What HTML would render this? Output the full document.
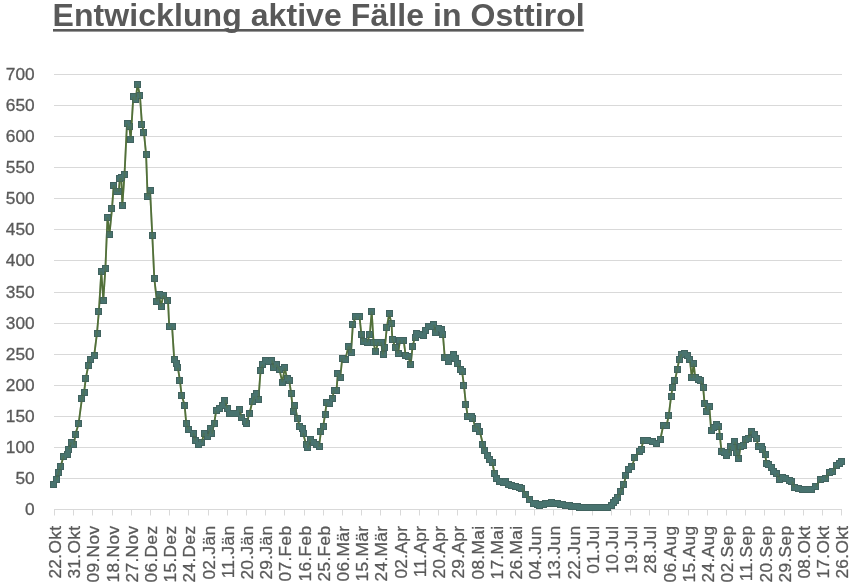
<!DOCTYPE html><html><head><meta charset="utf-8"><style>html,body{margin:0;padding:0;background:#fff;}svg{display:block;will-change:transform;}text{font-family:"Liberation Sans",Arial,sans-serif;}</style></head><body>
<svg width="850" height="584" viewBox="0 0 850 584">
<rect width="850" height="584" fill="#fff"/>
<text x="52.6" y="26" font-size="32" letter-spacing="0.065" font-weight="bold" fill="#595959">Entwicklung aktive Fälle in Osttirol</text>
<rect x="53" y="29" width="530.8" height="2.6" fill="#595959"/>
<line x1="54" x2="842" y1="478.5" y2="478.5" stroke="#d9d9d9" stroke-width="1"/>
<line x1="54" x2="842" y1="447.5" y2="447.5" stroke="#d9d9d9" stroke-width="1"/>
<line x1="54" x2="842" y1="416.5" y2="416.5" stroke="#d9d9d9" stroke-width="1"/>
<line x1="54" x2="842" y1="385.5" y2="385.5" stroke="#d9d9d9" stroke-width="1"/>
<line x1="54" x2="842" y1="354.5" y2="354.5" stroke="#d9d9d9" stroke-width="1"/>
<line x1="54" x2="842" y1="323.5" y2="323.5" stroke="#d9d9d9" stroke-width="1"/>
<line x1="54" x2="842" y1="292.5" y2="292.5" stroke="#d9d9d9" stroke-width="1"/>
<line x1="54" x2="842" y1="260.5" y2="260.5" stroke="#d9d9d9" stroke-width="1"/>
<line x1="54" x2="842" y1="229.5" y2="229.5" stroke="#d9d9d9" stroke-width="1"/>
<line x1="54" x2="842" y1="198.5" y2="198.5" stroke="#d9d9d9" stroke-width="1"/>
<line x1="54" x2="842" y1="167.5" y2="167.5" stroke="#d9d9d9" stroke-width="1"/>
<line x1="54" x2="842" y1="136.5" y2="136.5" stroke="#d9d9d9" stroke-width="1"/>
<line x1="54" x2="842" y1="105.5" y2="105.5" stroke="#d9d9d9" stroke-width="1"/>
<line x1="54" x2="842" y1="74.5" y2="74.5" stroke="#d9d9d9" stroke-width="1"/>
<line x1="54" x2="842" y1="509.5" y2="509.5" stroke="#d9d9d9" stroke-width="1"/>
<line x1="54.5" x2="54.5" y1="509.5" y2="515.5" stroke="#d9d9d9" stroke-width="1"/>
<line x1="73.5" x2="73.5" y1="509.5" y2="515.5" stroke="#d9d9d9" stroke-width="1"/>
<line x1="92.5" x2="92.5" y1="509.5" y2="515.5" stroke="#d9d9d9" stroke-width="1"/>
<line x1="112.5" x2="112.5" y1="509.5" y2="515.5" stroke="#d9d9d9" stroke-width="1"/>
<line x1="131.5" x2="131.5" y1="509.5" y2="515.5" stroke="#d9d9d9" stroke-width="1"/>
<line x1="150.5" x2="150.5" y1="509.5" y2="515.5" stroke="#d9d9d9" stroke-width="1"/>
<line x1="169.5" x2="169.5" y1="509.5" y2="515.5" stroke="#d9d9d9" stroke-width="1"/>
<line x1="188.5" x2="188.5" y1="509.5" y2="515.5" stroke="#d9d9d9" stroke-width="1"/>
<line x1="208.5" x2="208.5" y1="509.5" y2="515.5" stroke="#d9d9d9" stroke-width="1"/>
<line x1="227.5" x2="227.5" y1="509.5" y2="515.5" stroke="#d9d9d9" stroke-width="1"/>
<line x1="246.5" x2="246.5" y1="509.5" y2="515.5" stroke="#d9d9d9" stroke-width="1"/>
<line x1="265.5" x2="265.5" y1="509.5" y2="515.5" stroke="#d9d9d9" stroke-width="1"/>
<line x1="284.5" x2="284.5" y1="509.5" y2="515.5" stroke="#d9d9d9" stroke-width="1"/>
<line x1="304.5" x2="304.5" y1="509.5" y2="515.5" stroke="#d9d9d9" stroke-width="1"/>
<line x1="323.5" x2="323.5" y1="509.5" y2="515.5" stroke="#d9d9d9" stroke-width="1"/>
<line x1="342.5" x2="342.5" y1="509.5" y2="515.5" stroke="#d9d9d9" stroke-width="1"/>
<line x1="361.5" x2="361.5" y1="509.5" y2="515.5" stroke="#d9d9d9" stroke-width="1"/>
<line x1="380.5" x2="380.5" y1="509.5" y2="515.5" stroke="#d9d9d9" stroke-width="1"/>
<line x1="400.5" x2="400.5" y1="509.5" y2="515.5" stroke="#d9d9d9" stroke-width="1"/>
<line x1="419.5" x2="419.5" y1="509.5" y2="515.5" stroke="#d9d9d9" stroke-width="1"/>
<line x1="438.5" x2="438.5" y1="509.5" y2="515.5" stroke="#d9d9d9" stroke-width="1"/>
<line x1="457.5" x2="457.5" y1="509.5" y2="515.5" stroke="#d9d9d9" stroke-width="1"/>
<line x1="476.5" x2="476.5" y1="509.5" y2="515.5" stroke="#d9d9d9" stroke-width="1"/>
<line x1="496.5" x2="496.5" y1="509.5" y2="515.5" stroke="#d9d9d9" stroke-width="1"/>
<line x1="515.5" x2="515.5" y1="509.5" y2="515.5" stroke="#d9d9d9" stroke-width="1"/>
<line x1="534.5" x2="534.5" y1="509.5" y2="515.5" stroke="#d9d9d9" stroke-width="1"/>
<line x1="553.5" x2="553.5" y1="509.5" y2="515.5" stroke="#d9d9d9" stroke-width="1"/>
<line x1="572.5" x2="572.5" y1="509.5" y2="515.5" stroke="#d9d9d9" stroke-width="1"/>
<line x1="592.5" x2="592.5" y1="509.5" y2="515.5" stroke="#d9d9d9" stroke-width="1"/>
<line x1="611.5" x2="611.5" y1="509.5" y2="515.5" stroke="#d9d9d9" stroke-width="1"/>
<line x1="630.5" x2="630.5" y1="509.5" y2="515.5" stroke="#d9d9d9" stroke-width="1"/>
<line x1="649.5" x2="649.5" y1="509.5" y2="515.5" stroke="#d9d9d9" stroke-width="1"/>
<line x1="668.5" x2="668.5" y1="509.5" y2="515.5" stroke="#d9d9d9" stroke-width="1"/>
<line x1="688.5" x2="688.5" y1="509.5" y2="515.5" stroke="#d9d9d9" stroke-width="1"/>
<line x1="707.5" x2="707.5" y1="509.5" y2="515.5" stroke="#d9d9d9" stroke-width="1"/>
<line x1="726.5" x2="726.5" y1="509.5" y2="515.5" stroke="#d9d9d9" stroke-width="1"/>
<line x1="745.5" x2="745.5" y1="509.5" y2="515.5" stroke="#d9d9d9" stroke-width="1"/>
<line x1="764.5" x2="764.5" y1="509.5" y2="515.5" stroke="#d9d9d9" stroke-width="1"/>
<line x1="784.5" x2="784.5" y1="509.5" y2="515.5" stroke="#d9d9d9" stroke-width="1"/>
<line x1="803.5" x2="803.5" y1="509.5" y2="515.5" stroke="#d9d9d9" stroke-width="1"/>
<line x1="822.5" x2="822.5" y1="509.5" y2="515.5" stroke="#d9d9d9" stroke-width="1"/>
<line x1="841.5" x2="841.5" y1="509.5" y2="515.5" stroke="#d9d9d9" stroke-width="1"/>
<text x="34.7" y="515.2" font-size="17.3" fill="#595959" stroke="#595959" stroke-width="0.3" text-anchor="end">0</text>
<text x="34.7" y="484.2" font-size="17.3" fill="#595959" stroke="#595959" stroke-width="0.3" text-anchor="end">50</text>
<text x="34.7" y="453.2" font-size="17.3" fill="#595959" stroke="#595959" stroke-width="0.3" text-anchor="end">100</text>
<text x="34.7" y="422.2" font-size="17.3" fill="#595959" stroke="#595959" stroke-width="0.3" text-anchor="end">150</text>
<text x="34.7" y="391.2" font-size="17.3" fill="#595959" stroke="#595959" stroke-width="0.3" text-anchor="end">200</text>
<text x="34.7" y="360.2" font-size="17.3" fill="#595959" stroke="#595959" stroke-width="0.3" text-anchor="end">250</text>
<text x="34.7" y="329.2" font-size="17.3" fill="#595959" stroke="#595959" stroke-width="0.3" text-anchor="end">300</text>
<text x="34.7" y="298.2" font-size="17.3" fill="#595959" stroke="#595959" stroke-width="0.3" text-anchor="end">350</text>
<text x="34.7" y="266.2" font-size="17.3" fill="#595959" stroke="#595959" stroke-width="0.3" text-anchor="end">400</text>
<text x="34.7" y="235.2" font-size="17.3" fill="#595959" stroke="#595959" stroke-width="0.3" text-anchor="end">450</text>
<text x="34.7" y="204.2" font-size="17.3" fill="#595959" stroke="#595959" stroke-width="0.3" text-anchor="end">500</text>
<text x="34.7" y="173.2" font-size="17.3" fill="#595959" stroke="#595959" stroke-width="0.3" text-anchor="end">550</text>
<text x="34.7" y="142.2" font-size="17.3" fill="#595959" stroke="#595959" stroke-width="0.3" text-anchor="end">600</text>
<text x="34.7" y="111.2" font-size="17.3" fill="#595959" stroke="#595959" stroke-width="0.3" text-anchor="end">650</text>
<text x="34.7" y="80.2" font-size="17.3" fill="#595959" stroke="#595959" stroke-width="0.3" text-anchor="end">700</text>
<text transform="translate(61.0,525.6) rotate(-90)" x="0" y="0" font-size="17.3" letter-spacing="0.35" fill="#595959" stroke="#595959" stroke-width="0.3" text-anchor="end">22.Okt</text>
<text transform="translate(80.2,525.6) rotate(-90)" x="0" y="0" font-size="17.3" letter-spacing="0.35" fill="#595959" stroke="#595959" stroke-width="0.3" text-anchor="end">31.Okt</text>
<text transform="translate(99.4,525.6) rotate(-90)" x="0" y="0" font-size="17.3" letter-spacing="0.35" fill="#595959" stroke="#595959" stroke-width="0.3" text-anchor="end">09.Nov</text>
<text transform="translate(118.6,525.6) rotate(-90)" x="0" y="0" font-size="17.3" letter-spacing="0.35" fill="#595959" stroke="#595959" stroke-width="0.3" text-anchor="end">18.Nov</text>
<text transform="translate(137.8,525.6) rotate(-90)" x="0" y="0" font-size="17.3" letter-spacing="0.35" fill="#595959" stroke="#595959" stroke-width="0.3" text-anchor="end">27.Nov</text>
<text transform="translate(157.0,525.6) rotate(-90)" x="0" y="0" font-size="17.3" letter-spacing="0.35" fill="#595959" stroke="#595959" stroke-width="0.3" text-anchor="end">06.Dez</text>
<text transform="translate(176.2,525.6) rotate(-90)" x="0" y="0" font-size="17.3" letter-spacing="0.35" fill="#595959" stroke="#595959" stroke-width="0.3" text-anchor="end">15.Dez</text>
<text transform="translate(195.4,525.6) rotate(-90)" x="0" y="0" font-size="17.3" letter-spacing="0.35" fill="#595959" stroke="#595959" stroke-width="0.3" text-anchor="end">24.Dez</text>
<text transform="translate(214.6,525.6) rotate(-90)" x="0" y="0" font-size="17.3" letter-spacing="0.35" fill="#595959" stroke="#595959" stroke-width="0.3" text-anchor="end">02.Jän</text>
<text transform="translate(233.8,525.6) rotate(-90)" x="0" y="0" font-size="17.3" letter-spacing="0.35" fill="#595959" stroke="#595959" stroke-width="0.3" text-anchor="end">11.Jän</text>
<text transform="translate(253.0,525.6) rotate(-90)" x="0" y="0" font-size="17.3" letter-spacing="0.35" fill="#595959" stroke="#595959" stroke-width="0.3" text-anchor="end">20.Jän</text>
<text transform="translate(272.2,525.6) rotate(-90)" x="0" y="0" font-size="17.3" letter-spacing="0.35" fill="#595959" stroke="#595959" stroke-width="0.3" text-anchor="end">29.Jän</text>
<text transform="translate(291.4,525.6) rotate(-90)" x="0" y="0" font-size="17.3" letter-spacing="0.35" fill="#595959" stroke="#595959" stroke-width="0.3" text-anchor="end">07.Feb</text>
<text transform="translate(310.6,525.6) rotate(-90)" x="0" y="0" font-size="17.3" letter-spacing="0.35" fill="#595959" stroke="#595959" stroke-width="0.3" text-anchor="end">16.Feb</text>
<text transform="translate(329.8,525.6) rotate(-90)" x="0" y="0" font-size="17.3" letter-spacing="0.35" fill="#595959" stroke="#595959" stroke-width="0.3" text-anchor="end">25.Feb</text>
<text transform="translate(349.0,525.6) rotate(-90)" x="0" y="0" font-size="17.3" letter-spacing="0.35" fill="#595959" stroke="#595959" stroke-width="0.3" text-anchor="end">06.Mär</text>
<text transform="translate(368.2,525.6) rotate(-90)" x="0" y="0" font-size="17.3" letter-spacing="0.35" fill="#595959" stroke="#595959" stroke-width="0.3" text-anchor="end">15.Mär</text>
<text transform="translate(387.4,525.6) rotate(-90)" x="0" y="0" font-size="17.3" letter-spacing="0.35" fill="#595959" stroke="#595959" stroke-width="0.3" text-anchor="end">24.Mär</text>
<text transform="translate(406.6,525.6) rotate(-90)" x="0" y="0" font-size="17.3" letter-spacing="0.35" fill="#595959" stroke="#595959" stroke-width="0.3" text-anchor="end">02.Apr</text>
<text transform="translate(425.8,525.6) rotate(-90)" x="0" y="0" font-size="17.3" letter-spacing="0.35" fill="#595959" stroke="#595959" stroke-width="0.3" text-anchor="end">11.Apr</text>
<text transform="translate(445.0,525.6) rotate(-90)" x="0" y="0" font-size="17.3" letter-spacing="0.35" fill="#595959" stroke="#595959" stroke-width="0.3" text-anchor="end">20.Apr</text>
<text transform="translate(464.3,525.6) rotate(-90)" x="0" y="0" font-size="17.3" letter-spacing="0.35" fill="#595959" stroke="#595959" stroke-width="0.3" text-anchor="end">29.Apr</text>
<text transform="translate(483.5,525.6) rotate(-90)" x="0" y="0" font-size="17.3" letter-spacing="0.35" fill="#595959" stroke="#595959" stroke-width="0.3" text-anchor="end">08.Mai</text>
<text transform="translate(502.7,525.6) rotate(-90)" x="0" y="0" font-size="17.3" letter-spacing="0.35" fill="#595959" stroke="#595959" stroke-width="0.3" text-anchor="end">17.Mai</text>
<text transform="translate(521.9,525.6) rotate(-90)" x="0" y="0" font-size="17.3" letter-spacing="0.35" fill="#595959" stroke="#595959" stroke-width="0.3" text-anchor="end">26.Mai</text>
<text transform="translate(541.1,525.6) rotate(-90)" x="0" y="0" font-size="17.3" letter-spacing="0.35" fill="#595959" stroke="#595959" stroke-width="0.3" text-anchor="end">04.Jun</text>
<text transform="translate(560.3,525.6) rotate(-90)" x="0" y="0" font-size="17.3" letter-spacing="0.35" fill="#595959" stroke="#595959" stroke-width="0.3" text-anchor="end">13.Jun</text>
<text transform="translate(579.5,525.6) rotate(-90)" x="0" y="0" font-size="17.3" letter-spacing="0.35" fill="#595959" stroke="#595959" stroke-width="0.3" text-anchor="end">22.Jun</text>
<text transform="translate(598.7,525.6) rotate(-90)" x="0" y="0" font-size="17.3" letter-spacing="0.35" fill="#595959" stroke="#595959" stroke-width="0.3" text-anchor="end">01.Jul</text>
<text transform="translate(617.9,525.6) rotate(-90)" x="0" y="0" font-size="17.3" letter-spacing="0.35" fill="#595959" stroke="#595959" stroke-width="0.3" text-anchor="end">10.Jul</text>
<text transform="translate(637.1,525.6) rotate(-90)" x="0" y="0" font-size="17.3" letter-spacing="0.35" fill="#595959" stroke="#595959" stroke-width="0.3" text-anchor="end">19.Jul</text>
<text transform="translate(656.3,525.6) rotate(-90)" x="0" y="0" font-size="17.3" letter-spacing="0.35" fill="#595959" stroke="#595959" stroke-width="0.3" text-anchor="end">28.Jul</text>
<text transform="translate(675.5,525.6) rotate(-90)" x="0" y="0" font-size="17.3" letter-spacing="0.35" fill="#595959" stroke="#595959" stroke-width="0.3" text-anchor="end">06.Aug</text>
<text transform="translate(694.7,525.6) rotate(-90)" x="0" y="0" font-size="17.3" letter-spacing="0.35" fill="#595959" stroke="#595959" stroke-width="0.3" text-anchor="end">15.Aug</text>
<text transform="translate(713.9,525.6) rotate(-90)" x="0" y="0" font-size="17.3" letter-spacing="0.35" fill="#595959" stroke="#595959" stroke-width="0.3" text-anchor="end">24.Aug</text>
<text transform="translate(733.1,525.6) rotate(-90)" x="0" y="0" font-size="17.3" letter-spacing="0.35" fill="#595959" stroke="#595959" stroke-width="0.3" text-anchor="end">02.Sep</text>
<text transform="translate(752.3,525.6) rotate(-90)" x="0" y="0" font-size="17.3" letter-spacing="0.35" fill="#595959" stroke="#595959" stroke-width="0.3" text-anchor="end">11.Sep</text>
<text transform="translate(771.5,525.6) rotate(-90)" x="0" y="0" font-size="17.3" letter-spacing="0.35" fill="#595959" stroke="#595959" stroke-width="0.3" text-anchor="end">20.Sep</text>
<text transform="translate(790.7,525.6) rotate(-90)" x="0" y="0" font-size="17.3" letter-spacing="0.35" fill="#595959" stroke="#595959" stroke-width="0.3" text-anchor="end">29.Sep</text>
<text transform="translate(809.9,525.6) rotate(-90)" x="0" y="0" font-size="17.3" letter-spacing="0.35" fill="#595959" stroke="#595959" stroke-width="0.3" text-anchor="end">08.Okt</text>
<text transform="translate(829.1,525.6) rotate(-90)" x="0" y="0" font-size="17.3" letter-spacing="0.35" fill="#595959" stroke="#595959" stroke-width="0.3" text-anchor="end">17.Okt</text>
<text transform="translate(848.3,525.6) rotate(-90)" x="0" y="0" font-size="17.3" letter-spacing="0.35" fill="#595959" stroke="#595959" stroke-width="0.3" text-anchor="end">26.Okt</text>
<polyline points="53.90,484.64 56.50,479.67 58.50,472.84 60.80,466.00 63.60,456.06 67.00,454.20 68.80,449.22 71.30,442.39 73.90,444.87 75.40,434.31 78.60,423.75 81.90,398.89 84.10,392.06 85.80,378.38 88.20,365.96 90.10,359.12 94.20,355.39 97.00,333.02 98.90,311.27 101.30,271.50 103.30,300.09 105.40,268.40 107.50,217.44 109.50,234.22 112.00,208.74 113.70,185.13 116.70,191.96 118.80,191.96 119.80,178.29 121.30,177.67 122.30,205.64 124.50,174.57 127.00,123.61 129.20,126.10 130.70,139.15 133.30,96.89 135.80,100.00 137.40,84.46 139.90,95.03 142.00,124.85 144.00,132.93 146.10,154.68 147.60,196.31 150.10,190.72 152.30,235.46 154.30,278.34 156.90,301.33 159.00,294.50 161.00,306.92 163.10,295.74 168.00,300.09 169.20,326.19 172.10,326.81 174.20,359.12 176.20,363.47 177.90,367.82 179.90,380.25 181.60,395.16 184.60,405.10 186.30,423.75 188.80,429.34 193.10,433.07 195.70,440.52 198.30,444.25 201.70,442.39 204.20,433.07 207.70,436.17 210.20,428.72 212.00,433.69 214.20,423.13 216.20,410.70 219.70,408.83 222.20,405.10 224.80,400.13 227.40,408.21 229.10,413.18 233.40,413.18 236.40,413.80 239.30,409.45 241.90,417.53 245.00,421.88 246.20,423.75 249.60,413.18 252.20,402.00 254.80,396.41 256.90,393.92 258.40,399.51 260.60,370.31 262.90,364.71 265.40,360.99 268.60,361.61 272.00,360.36 273.80,367.82 276.10,364.71 279.50,369.69 282.30,382.11 284.80,367.82 287.00,378.38 289.30,380.87 291.20,393.92 293.00,411.32 294.90,405.73 297.40,418.15 299.80,426.23 302.10,428.72 303.00,433.07 306.20,444.87 307.70,447.98 310.60,439.28 313.40,442.39 316.80,444.25 319.00,446.74 320.90,431.82 323.20,426.23 325.10,414.43 326.60,402.62 330.00,403.24 332.20,398.89 334.10,390.19 336.50,390.19 337.90,373.41 340.30,377.14 342.20,358.50 345.40,359.12 348.60,346.07 351.00,352.91 352.90,324.32 355.70,316.87 359.50,316.24 361.40,334.89 363.60,341.72 367.00,342.34 369.80,334.89 371.70,311.27 373.60,342.96 375.50,351.66 378.30,342.34 381.10,342.34 383.00,354.77 384.90,347.31 386.80,327.43 389.20,313.76 391.50,323.70 392.40,339.86 395.60,347.31 398.10,353.53 400.00,340.48 403.70,340.48 405.60,355.39 408.40,356.64 410.70,364.71 412.60,346.07 415.00,337.37 416.90,333.02 419.70,334.89 423.50,335.51 425.40,330.54 428.20,326.81 431.00,326.81 433.80,324.94 435.70,332.40 438.50,328.67 441.00,329.29 442.90,334.27 444.80,357.88 447.40,357.88 448.90,361.61 450.80,357.88 453.60,354.77 455.50,358.50 457.40,363.47 460.20,369.06 462.10,371.55 464.00,385.84 465.90,404.48 467.80,416.91 471.00,416.29 472.90,418.15 475.30,428.10 477.20,426.23 479.90,431.82 482.90,444.25 484.80,450.47 487.00,455.44 489.30,459.17 492.30,462.27 494.50,473.46 496.80,478.43 499.30,481.54 503.00,482.78 505.80,481.54 508.70,484.02 511.50,485.89 515.30,486.51 519.00,487.13 521.80,488.37 526.00,494.59 530.00,499.56 534.00,503.29 536.00,503.91 538.00,504.53 540.00,505.15 542.00,504.74 544.00,504.32 546.00,503.91 548.00,503.49 550.00,503.08 552.00,502.66 554.00,503.08 556.00,503.49 558.00,503.91 560.33,504.32 562.67,504.74 565.00,505.15 567.00,505.46 569.00,505.77 571.00,506.08 573.00,506.39 575.33,506.60 577.67,506.81 580.00,507.01 582.00,507.08 584.00,507.14 586.00,507.20 588.00,507.26 590.00,507.33 592.00,507.33 594.00,507.33 596.00,507.33 598.00,507.33 600.00,507.33 602.33,507.22 604.67,507.12 607.00,507.01 611.20,505.15 613.33,502.66 615.47,500.18 617.60,497.69 620.90,491.48 623.80,484.64 626.00,475.32 628.10,469.73 631.80,466.62 634.70,457.92 639.00,451.71 641.20,449.22 643.40,440.52 647.80,440.52 652.10,441.77 656.50,443.63 660.40,439.28 663.20,425.61 666.60,425.61 668.80,415.05 671.10,396.41 672.60,387.08 674.90,380.87 677.30,369.06 679.20,359.74 681.60,354.15 684.80,353.53 687.70,355.39 689.90,359.74 691.80,377.76 693.70,363.47 695.20,377.76 698.60,379.63 700.80,380.87 703.10,387.08 704.60,403.86 706.90,411.32 709.30,406.35 711.20,430.58 713.50,427.48 716.50,424.99 718.90,426.23 719.90,436.17 721.50,451.71 724.20,452.33 726.60,455.44 728.90,452.95 730.40,446.12 733.80,447.36 734.70,441.77 736.60,452.33 738.90,458.55 740.40,446.12 743.50,445.50 745.80,439.28 748.10,438.04 751.70,431.20 754.30,434.31 756.60,438.66 758.10,446.12 761.20,446.12 762.80,449.22 765.10,454.82 766.60,463.52 768.90,464.76 771.20,467.24 773.60,471.59 776.60,473.46 779.70,479.67 782.80,477.81 785.90,478.43 789.00,480.29 792.00,481.54 794.40,487.13 798.20,488.99 802.10,489.62 806.40,489.62 811.20,489.62 816.00,486.51 820.80,479.05 825.60,478.43 829.20,472.22 832.80,471.59 836.40,465.38 840.00,463.52 842.00,461.03" fill="none" stroke="#52703a" stroke-width="1.8" stroke-linejoin="round"/>
<g fill="#41635f">
<rect x="50" y="481" width="7" height="7"/>
<rect x="53" y="476" width="7" height="7"/>
<rect x="55" y="469" width="7" height="7"/>
<rect x="57" y="463" width="7" height="7"/>
<rect x="60" y="453" width="7" height="7"/>
<rect x="64" y="451" width="7" height="7"/>
<rect x="65" y="446" width="7" height="7"/>
<rect x="68" y="439" width="7" height="7"/>
<rect x="70" y="441" width="7" height="7"/>
<rect x="72" y="431" width="7" height="7"/>
<rect x="75" y="420" width="7" height="7"/>
<rect x="78" y="395" width="7" height="7"/>
<rect x="81" y="389" width="7" height="7"/>
<rect x="82" y="375" width="7" height="7"/>
<rect x="85" y="362" width="7" height="7"/>
<rect x="87" y="356" width="7" height="7"/>
<rect x="91" y="352" width="7" height="7"/>
<rect x="94" y="330" width="7" height="7"/>
<rect x="95" y="308" width="7" height="7"/>
<rect x="98" y="268" width="7" height="7"/>
<rect x="100" y="297" width="7" height="7"/>
<rect x="102" y="265" width="7" height="7"/>
<rect x="104" y="214" width="7" height="7"/>
<rect x="106" y="231" width="7" height="7"/>
<rect x="108" y="205" width="7" height="7"/>
<rect x="110" y="182" width="7" height="7"/>
<rect x="113" y="188" width="7" height="7"/>
<rect x="115" y="188" width="7" height="7"/>
<rect x="116" y="175" width="7" height="7"/>
<rect x="118" y="174" width="7" height="7"/>
<rect x="119" y="202" width="7" height="7"/>
<rect x="121" y="171" width="7" height="7"/>
<rect x="124" y="120" width="7" height="7"/>
<rect x="126" y="123" width="7" height="7"/>
<rect x="127" y="136" width="7" height="7"/>
<rect x="130" y="93" width="7" height="7"/>
<rect x="132" y="96" width="7" height="7"/>
<rect x="134" y="81" width="7" height="7"/>
<rect x="136" y="92" width="7" height="7"/>
<rect x="138" y="121" width="7" height="7"/>
<rect x="140" y="129" width="7" height="7"/>
<rect x="143" y="151" width="7" height="7"/>
<rect x="144" y="193" width="7" height="7"/>
<rect x="147" y="187" width="7" height="7"/>
<rect x="149" y="232" width="7" height="7"/>
<rect x="151" y="275" width="7" height="7"/>
<rect x="153" y="298" width="7" height="7"/>
<rect x="156" y="291" width="7" height="7"/>
<rect x="158" y="303" width="7" height="7"/>
<rect x="160" y="292" width="7" height="7"/>
<rect x="164" y="297" width="7" height="7"/>
<rect x="166" y="323" width="7" height="7"/>
<rect x="169" y="323" width="7" height="7"/>
<rect x="171" y="356" width="7" height="7"/>
<rect x="173" y="360" width="7" height="7"/>
<rect x="174" y="364" width="7" height="7"/>
<rect x="176" y="377" width="7" height="7"/>
<rect x="178" y="392" width="7" height="7"/>
<rect x="181" y="402" width="7" height="7"/>
<rect x="183" y="420" width="7" height="7"/>
<rect x="185" y="426" width="7" height="7"/>
<rect x="190" y="430" width="7" height="7"/>
<rect x="192" y="437" width="7" height="7"/>
<rect x="195" y="441" width="7" height="7"/>
<rect x="198" y="439" width="7" height="7"/>
<rect x="201" y="430" width="7" height="7"/>
<rect x="204" y="433" width="7" height="7"/>
<rect x="207" y="425" width="7" height="7"/>
<rect x="208" y="430" width="7" height="7"/>
<rect x="211" y="420" width="7" height="7"/>
<rect x="213" y="407" width="7" height="7"/>
<rect x="216" y="405" width="7" height="7"/>
<rect x="219" y="402" width="7" height="7"/>
<rect x="221" y="397" width="7" height="7"/>
<rect x="224" y="405" width="7" height="7"/>
<rect x="226" y="410" width="7" height="7"/>
<rect x="230" y="410" width="7" height="7"/>
<rect x="233" y="410" width="7" height="7"/>
<rect x="236" y="406" width="7" height="7"/>
<rect x="238" y="414" width="7" height="7"/>
<rect x="242" y="418" width="7" height="7"/>
<rect x="243" y="420" width="7" height="7"/>
<rect x="246" y="410" width="7" height="7"/>
<rect x="249" y="398" width="7" height="7"/>
<rect x="251" y="393" width="7" height="7"/>
<rect x="253" y="390" width="7" height="7"/>
<rect x="255" y="396" width="7" height="7"/>
<rect x="257" y="367" width="7" height="7"/>
<rect x="259" y="361" width="7" height="7"/>
<rect x="262" y="357" width="7" height="7"/>
<rect x="265" y="358" width="7" height="7"/>
<rect x="268" y="357" width="7" height="7"/>
<rect x="270" y="364" width="7" height="7"/>
<rect x="273" y="361" width="7" height="7"/>
<rect x="276" y="366" width="7" height="7"/>
<rect x="279" y="379" width="7" height="7"/>
<rect x="281" y="364" width="7" height="7"/>
<rect x="284" y="375" width="7" height="7"/>
<rect x="286" y="377" width="7" height="7"/>
<rect x="288" y="390" width="7" height="7"/>
<rect x="290" y="408" width="7" height="7"/>
<rect x="291" y="402" width="7" height="7"/>
<rect x="294" y="415" width="7" height="7"/>
<rect x="296" y="423" width="7" height="7"/>
<rect x="299" y="425" width="7" height="7"/>
<rect x="300" y="430" width="7" height="7"/>
<rect x="303" y="441" width="7" height="7"/>
<rect x="304" y="444" width="7" height="7"/>
<rect x="307" y="436" width="7" height="7"/>
<rect x="310" y="439" width="7" height="7"/>
<rect x="313" y="441" width="7" height="7"/>
<rect x="316" y="443" width="7" height="7"/>
<rect x="317" y="428" width="7" height="7"/>
<rect x="320" y="423" width="7" height="7"/>
<rect x="322" y="411" width="7" height="7"/>
<rect x="323" y="399" width="7" height="7"/>
<rect x="326" y="400" width="7" height="7"/>
<rect x="329" y="395" width="7" height="7"/>
<rect x="331" y="387" width="7" height="7"/>
<rect x="333" y="387" width="7" height="7"/>
<rect x="334" y="370" width="7" height="7"/>
<rect x="337" y="374" width="7" height="7"/>
<rect x="339" y="355" width="7" height="7"/>
<rect x="342" y="356" width="7" height="7"/>
<rect x="345" y="343" width="7" height="7"/>
<rect x="348" y="349" width="7" height="7"/>
<rect x="349" y="321" width="7" height="7"/>
<rect x="352" y="313" width="7" height="7"/>
<rect x="356" y="313" width="7" height="7"/>
<rect x="358" y="331" width="7" height="7"/>
<rect x="360" y="338" width="7" height="7"/>
<rect x="364" y="339" width="7" height="7"/>
<rect x="366" y="331" width="7" height="7"/>
<rect x="368" y="308" width="7" height="7"/>
<rect x="370" y="339" width="7" height="7"/>
<rect x="372" y="348" width="7" height="7"/>
<rect x="375" y="339" width="7" height="7"/>
<rect x="378" y="339" width="7" height="7"/>
<rect x="380" y="351" width="7" height="7"/>
<rect x="381" y="344" width="7" height="7"/>
<rect x="383" y="324" width="7" height="7"/>
<rect x="386" y="310" width="7" height="7"/>
<rect x="388" y="320" width="7" height="7"/>
<rect x="389" y="336" width="7" height="7"/>
<rect x="392" y="344" width="7" height="7"/>
<rect x="395" y="350" width="7" height="7"/>
<rect x="396" y="337" width="7" height="7"/>
<rect x="400" y="337" width="7" height="7"/>
<rect x="402" y="352" width="7" height="7"/>
<rect x="405" y="353" width="7" height="7"/>
<rect x="407" y="361" width="7" height="7"/>
<rect x="409" y="343" width="7" height="7"/>
<rect x="412" y="334" width="7" height="7"/>
<rect x="413" y="330" width="7" height="7"/>
<rect x="416" y="331" width="7" height="7"/>
<rect x="420" y="332" width="7" height="7"/>
<rect x="422" y="327" width="7" height="7"/>
<rect x="425" y="323" width="7" height="7"/>
<rect x="428" y="323" width="7" height="7"/>
<rect x="430" y="321" width="7" height="7"/>
<rect x="432" y="329" width="7" height="7"/>
<rect x="435" y="325" width="7" height="7"/>
<rect x="438" y="326" width="7" height="7"/>
<rect x="439" y="331" width="7" height="7"/>
<rect x="441" y="354" width="7" height="7"/>
<rect x="444" y="354" width="7" height="7"/>
<rect x="445" y="358" width="7" height="7"/>
<rect x="447" y="354" width="7" height="7"/>
<rect x="450" y="351" width="7" height="7"/>
<rect x="452" y="355" width="7" height="7"/>
<rect x="454" y="360" width="7" height="7"/>
<rect x="457" y="366" width="7" height="7"/>
<rect x="459" y="368" width="7" height="7"/>
<rect x="460" y="382" width="7" height="7"/>
<rect x="462" y="401" width="7" height="7"/>
<rect x="464" y="413" width="7" height="7"/>
<rect x="468" y="413" width="7" height="7"/>
<rect x="469" y="415" width="7" height="7"/>
<rect x="472" y="425" width="7" height="7"/>
<rect x="474" y="423" width="7" height="7"/>
<rect x="476" y="428" width="7" height="7"/>
<rect x="479" y="441" width="7" height="7"/>
<rect x="481" y="447" width="7" height="7"/>
<rect x="484" y="452" width="7" height="7"/>
<rect x="486" y="456" width="7" height="7"/>
<rect x="489" y="459" width="7" height="7"/>
<rect x="491" y="470" width="7" height="7"/>
<rect x="493" y="475" width="7" height="7"/>
<rect x="496" y="478" width="7" height="7"/>
<rect x="500" y="479" width="7" height="7"/>
<rect x="502" y="478" width="7" height="7"/>
<rect x="505" y="481" width="7" height="7"/>
<rect x="508" y="482" width="7" height="7"/>
<rect x="512" y="483" width="7" height="7"/>
<rect x="516" y="484" width="7" height="7"/>
<rect x="518" y="485" width="7" height="7"/>
<rect x="522" y="491" width="7" height="7"/>
<rect x="526" y="496" width="7" height="7"/>
<rect x="530" y="500" width="7" height="7"/>
<rect x="532" y="500" width="7" height="7"/>
<rect x="534" y="501" width="7" height="7"/>
<rect x="536" y="502" width="7" height="7"/>
<rect x="538" y="501" width="7" height="7"/>
<rect x="540" y="501" width="7" height="7"/>
<rect x="542" y="500" width="7" height="7"/>
<rect x="544" y="500" width="7" height="7"/>
<rect x="546" y="500" width="7" height="7"/>
<rect x="548" y="499" width="7" height="7"/>
<rect x="550" y="500" width="7" height="7"/>
<rect x="552" y="500" width="7" height="7"/>
<rect x="554" y="500" width="7" height="7"/>
<rect x="557" y="501" width="7" height="7"/>
<rect x="559" y="501" width="7" height="7"/>
<rect x="562" y="502" width="7" height="7"/>
<rect x="564" y="502" width="7" height="7"/>
<rect x="566" y="502" width="7" height="7"/>
<rect x="568" y="503" width="7" height="7"/>
<rect x="570" y="503" width="7" height="7"/>
<rect x="572" y="503" width="7" height="7"/>
<rect x="574" y="503" width="7" height="7"/>
<rect x="576" y="504" width="7" height="7"/>
<rect x="578" y="504" width="7" height="7"/>
<rect x="580" y="504" width="7" height="7"/>
<rect x="582" y="504" width="7" height="7"/>
<rect x="584" y="504" width="7" height="7"/>
<rect x="586" y="504" width="7" height="7"/>
<rect x="588" y="504" width="7" height="7"/>
<rect x="590" y="504" width="7" height="7"/>
<rect x="592" y="504" width="7" height="7"/>
<rect x="594" y="504" width="7" height="7"/>
<rect x="596" y="504" width="7" height="7"/>
<rect x="599" y="504" width="7" height="7"/>
<rect x="601" y="504" width="7" height="7"/>
<rect x="604" y="504" width="7" height="7"/>
<rect x="608" y="502" width="7" height="7"/>
<rect x="610" y="499" width="7" height="7"/>
<rect x="612" y="497" width="7" height="7"/>
<rect x="614" y="494" width="7" height="7"/>
<rect x="617" y="488" width="7" height="7"/>
<rect x="620" y="481" width="7" height="7"/>
<rect x="622" y="472" width="7" height="7"/>
<rect x="625" y="466" width="7" height="7"/>
<rect x="628" y="463" width="7" height="7"/>
<rect x="631" y="454" width="7" height="7"/>
<rect x="636" y="448" width="7" height="7"/>
<rect x="638" y="446" width="7" height="7"/>
<rect x="640" y="437" width="7" height="7"/>
<rect x="644" y="437" width="7" height="7"/>
<rect x="649" y="438" width="7" height="7"/>
<rect x="653" y="440" width="7" height="7"/>
<rect x="657" y="436" width="7" height="7"/>
<rect x="660" y="422" width="7" height="7"/>
<rect x="663" y="422" width="7" height="7"/>
<rect x="665" y="412" width="7" height="7"/>
<rect x="668" y="393" width="7" height="7"/>
<rect x="669" y="384" width="7" height="7"/>
<rect x="671" y="377" width="7" height="7"/>
<rect x="674" y="366" width="7" height="7"/>
<rect x="676" y="356" width="7" height="7"/>
<rect x="678" y="351" width="7" height="7"/>
<rect x="681" y="350" width="7" height="7"/>
<rect x="684" y="352" width="7" height="7"/>
<rect x="686" y="356" width="7" height="7"/>
<rect x="688" y="374" width="7" height="7"/>
<rect x="690" y="360" width="7" height="7"/>
<rect x="692" y="374" width="7" height="7"/>
<rect x="695" y="376" width="7" height="7"/>
<rect x="697" y="377" width="7" height="7"/>
<rect x="700" y="384" width="7" height="7"/>
<rect x="701" y="400" width="7" height="7"/>
<rect x="703" y="408" width="7" height="7"/>
<rect x="706" y="403" width="7" height="7"/>
<rect x="708" y="427" width="7" height="7"/>
<rect x="710" y="424" width="7" height="7"/>
<rect x="713" y="421" width="7" height="7"/>
<rect x="715" y="423" width="7" height="7"/>
<rect x="716" y="433" width="7" height="7"/>
<rect x="718" y="448" width="7" height="7"/>
<rect x="721" y="449" width="7" height="7"/>
<rect x="723" y="452" width="7" height="7"/>
<rect x="725" y="449" width="7" height="7"/>
<rect x="727" y="443" width="7" height="7"/>
<rect x="730" y="444" width="7" height="7"/>
<rect x="731" y="438" width="7" height="7"/>
<rect x="733" y="449" width="7" height="7"/>
<rect x="735" y="455" width="7" height="7"/>
<rect x="737" y="443" width="7" height="7"/>
<rect x="740" y="442" width="7" height="7"/>
<rect x="742" y="436" width="7" height="7"/>
<rect x="745" y="435" width="7" height="7"/>
<rect x="748" y="428" width="7" height="7"/>
<rect x="751" y="431" width="7" height="7"/>
<rect x="753" y="435" width="7" height="7"/>
<rect x="755" y="443" width="7" height="7"/>
<rect x="758" y="443" width="7" height="7"/>
<rect x="759" y="446" width="7" height="7"/>
<rect x="762" y="451" width="7" height="7"/>
<rect x="763" y="460" width="7" height="7"/>
<rect x="765" y="461" width="7" height="7"/>
<rect x="768" y="464" width="7" height="7"/>
<rect x="770" y="468" width="7" height="7"/>
<rect x="773" y="470" width="7" height="7"/>
<rect x="776" y="476" width="7" height="7"/>
<rect x="779" y="474" width="7" height="7"/>
<rect x="782" y="475" width="7" height="7"/>
<rect x="786" y="477" width="7" height="7"/>
<rect x="788" y="478" width="7" height="7"/>
<rect x="791" y="484" width="7" height="7"/>
<rect x="795" y="485" width="7" height="7"/>
<rect x="799" y="486" width="7" height="7"/>
<rect x="803" y="486" width="7" height="7"/>
<rect x="808" y="486" width="7" height="7"/>
<rect x="812" y="483" width="7" height="7"/>
<rect x="817" y="476" width="7" height="7"/>
<rect x="822" y="475" width="7" height="7"/>
<rect x="826" y="469" width="7" height="7"/>
<rect x="829" y="468" width="7" height="7"/>
<rect x="833" y="462" width="7" height="7"/>
<rect x="836" y="460" width="7" height="7"/>
<rect x="838" y="458" width="7" height="7"/>
</g>
<g fill="#48736f">
<rect x="51" y="482" width="5" height="5"/>
<rect x="54" y="477" width="5" height="5"/>
<rect x="56" y="470" width="5" height="5"/>
<rect x="58" y="464" width="5" height="5"/>
<rect x="61" y="454" width="5" height="5"/>
<rect x="65" y="452" width="5" height="5"/>
<rect x="66" y="447" width="5" height="5"/>
<rect x="69" y="440" width="5" height="5"/>
<rect x="71" y="442" width="5" height="5"/>
<rect x="73" y="432" width="5" height="5"/>
<rect x="76" y="421" width="5" height="5"/>
<rect x="79" y="396" width="5" height="5"/>
<rect x="82" y="390" width="5" height="5"/>
<rect x="83" y="376" width="5" height="5"/>
<rect x="86" y="363" width="5" height="5"/>
<rect x="88" y="357" width="5" height="5"/>
<rect x="92" y="353" width="5" height="5"/>
<rect x="95" y="331" width="5" height="5"/>
<rect x="96" y="309" width="5" height="5"/>
<rect x="99" y="269" width="5" height="5"/>
<rect x="101" y="298" width="5" height="5"/>
<rect x="103" y="266" width="5" height="5"/>
<rect x="105" y="215" width="5" height="5"/>
<rect x="107" y="232" width="5" height="5"/>
<rect x="109" y="206" width="5" height="5"/>
<rect x="111" y="183" width="5" height="5"/>
<rect x="114" y="189" width="5" height="5"/>
<rect x="116" y="189" width="5" height="5"/>
<rect x="117" y="176" width="5" height="5"/>
<rect x="119" y="175" width="5" height="5"/>
<rect x="120" y="203" width="5" height="5"/>
<rect x="122" y="172" width="5" height="5"/>
<rect x="125" y="121" width="5" height="5"/>
<rect x="127" y="124" width="5" height="5"/>
<rect x="128" y="137" width="5" height="5"/>
<rect x="131" y="94" width="5" height="5"/>
<rect x="133" y="97" width="5" height="5"/>
<rect x="135" y="82" width="5" height="5"/>
<rect x="137" y="93" width="5" height="5"/>
<rect x="139" y="122" width="5" height="5"/>
<rect x="141" y="130" width="5" height="5"/>
<rect x="144" y="152" width="5" height="5"/>
<rect x="145" y="194" width="5" height="5"/>
<rect x="148" y="188" width="5" height="5"/>
<rect x="150" y="233" width="5" height="5"/>
<rect x="152" y="276" width="5" height="5"/>
<rect x="154" y="299" width="5" height="5"/>
<rect x="157" y="292" width="5" height="5"/>
<rect x="159" y="304" width="5" height="5"/>
<rect x="161" y="293" width="5" height="5"/>
<rect x="165" y="298" width="5" height="5"/>
<rect x="167" y="324" width="5" height="5"/>
<rect x="170" y="324" width="5" height="5"/>
<rect x="172" y="357" width="5" height="5"/>
<rect x="174" y="361" width="5" height="5"/>
<rect x="175" y="365" width="5" height="5"/>
<rect x="177" y="378" width="5" height="5"/>
<rect x="179" y="393" width="5" height="5"/>
<rect x="182" y="403" width="5" height="5"/>
<rect x="184" y="421" width="5" height="5"/>
<rect x="186" y="427" width="5" height="5"/>
<rect x="191" y="431" width="5" height="5"/>
<rect x="193" y="438" width="5" height="5"/>
<rect x="196" y="442" width="5" height="5"/>
<rect x="199" y="440" width="5" height="5"/>
<rect x="202" y="431" width="5" height="5"/>
<rect x="205" y="434" width="5" height="5"/>
<rect x="208" y="426" width="5" height="5"/>
<rect x="209" y="431" width="5" height="5"/>
<rect x="212" y="421" width="5" height="5"/>
<rect x="214" y="408" width="5" height="5"/>
<rect x="217" y="406" width="5" height="5"/>
<rect x="220" y="403" width="5" height="5"/>
<rect x="222" y="398" width="5" height="5"/>
<rect x="225" y="406" width="5" height="5"/>
<rect x="227" y="411" width="5" height="5"/>
<rect x="231" y="411" width="5" height="5"/>
<rect x="234" y="411" width="5" height="5"/>
<rect x="237" y="407" width="5" height="5"/>
<rect x="239" y="415" width="5" height="5"/>
<rect x="243" y="419" width="5" height="5"/>
<rect x="244" y="421" width="5" height="5"/>
<rect x="247" y="411" width="5" height="5"/>
<rect x="250" y="399" width="5" height="5"/>
<rect x="252" y="394" width="5" height="5"/>
<rect x="254" y="391" width="5" height="5"/>
<rect x="256" y="397" width="5" height="5"/>
<rect x="258" y="368" width="5" height="5"/>
<rect x="260" y="362" width="5" height="5"/>
<rect x="263" y="358" width="5" height="5"/>
<rect x="266" y="359" width="5" height="5"/>
<rect x="269" y="358" width="5" height="5"/>
<rect x="271" y="365" width="5" height="5"/>
<rect x="274" y="362" width="5" height="5"/>
<rect x="277" y="367" width="5" height="5"/>
<rect x="280" y="380" width="5" height="5"/>
<rect x="282" y="365" width="5" height="5"/>
<rect x="285" y="376" width="5" height="5"/>
<rect x="287" y="378" width="5" height="5"/>
<rect x="289" y="391" width="5" height="5"/>
<rect x="291" y="409" width="5" height="5"/>
<rect x="292" y="403" width="5" height="5"/>
<rect x="295" y="416" width="5" height="5"/>
<rect x="297" y="424" width="5" height="5"/>
<rect x="300" y="426" width="5" height="5"/>
<rect x="301" y="431" width="5" height="5"/>
<rect x="304" y="442" width="5" height="5"/>
<rect x="305" y="445" width="5" height="5"/>
<rect x="308" y="437" width="5" height="5"/>
<rect x="311" y="440" width="5" height="5"/>
<rect x="314" y="442" width="5" height="5"/>
<rect x="317" y="444" width="5" height="5"/>
<rect x="318" y="429" width="5" height="5"/>
<rect x="321" y="424" width="5" height="5"/>
<rect x="323" y="412" width="5" height="5"/>
<rect x="324" y="400" width="5" height="5"/>
<rect x="327" y="401" width="5" height="5"/>
<rect x="330" y="396" width="5" height="5"/>
<rect x="332" y="388" width="5" height="5"/>
<rect x="334" y="388" width="5" height="5"/>
<rect x="335" y="371" width="5" height="5"/>
<rect x="338" y="375" width="5" height="5"/>
<rect x="340" y="356" width="5" height="5"/>
<rect x="343" y="357" width="5" height="5"/>
<rect x="346" y="344" width="5" height="5"/>
<rect x="349" y="350" width="5" height="5"/>
<rect x="350" y="322" width="5" height="5"/>
<rect x="353" y="314" width="5" height="5"/>
<rect x="357" y="314" width="5" height="5"/>
<rect x="359" y="332" width="5" height="5"/>
<rect x="361" y="339" width="5" height="5"/>
<rect x="365" y="340" width="5" height="5"/>
<rect x="367" y="332" width="5" height="5"/>
<rect x="369" y="309" width="5" height="5"/>
<rect x="371" y="340" width="5" height="5"/>
<rect x="373" y="349" width="5" height="5"/>
<rect x="376" y="340" width="5" height="5"/>
<rect x="379" y="340" width="5" height="5"/>
<rect x="381" y="352" width="5" height="5"/>
<rect x="382" y="345" width="5" height="5"/>
<rect x="384" y="325" width="5" height="5"/>
<rect x="387" y="311" width="5" height="5"/>
<rect x="389" y="321" width="5" height="5"/>
<rect x="390" y="337" width="5" height="5"/>
<rect x="393" y="345" width="5" height="5"/>
<rect x="396" y="351" width="5" height="5"/>
<rect x="397" y="338" width="5" height="5"/>
<rect x="401" y="338" width="5" height="5"/>
<rect x="403" y="353" width="5" height="5"/>
<rect x="406" y="354" width="5" height="5"/>
<rect x="408" y="362" width="5" height="5"/>
<rect x="410" y="344" width="5" height="5"/>
<rect x="413" y="335" width="5" height="5"/>
<rect x="414" y="331" width="5" height="5"/>
<rect x="417" y="332" width="5" height="5"/>
<rect x="421" y="333" width="5" height="5"/>
<rect x="423" y="328" width="5" height="5"/>
<rect x="426" y="324" width="5" height="5"/>
<rect x="429" y="324" width="5" height="5"/>
<rect x="431" y="322" width="5" height="5"/>
<rect x="433" y="330" width="5" height="5"/>
<rect x="436" y="326" width="5" height="5"/>
<rect x="439" y="327" width="5" height="5"/>
<rect x="440" y="332" width="5" height="5"/>
<rect x="442" y="355" width="5" height="5"/>
<rect x="445" y="355" width="5" height="5"/>
<rect x="446" y="359" width="5" height="5"/>
<rect x="448" y="355" width="5" height="5"/>
<rect x="451" y="352" width="5" height="5"/>
<rect x="453" y="356" width="5" height="5"/>
<rect x="455" y="361" width="5" height="5"/>
<rect x="458" y="367" width="5" height="5"/>
<rect x="460" y="369" width="5" height="5"/>
<rect x="461" y="383" width="5" height="5"/>
<rect x="463" y="402" width="5" height="5"/>
<rect x="465" y="414" width="5" height="5"/>
<rect x="469" y="414" width="5" height="5"/>
<rect x="470" y="416" width="5" height="5"/>
<rect x="473" y="426" width="5" height="5"/>
<rect x="475" y="424" width="5" height="5"/>
<rect x="477" y="429" width="5" height="5"/>
<rect x="480" y="442" width="5" height="5"/>
<rect x="482" y="448" width="5" height="5"/>
<rect x="485" y="453" width="5" height="5"/>
<rect x="487" y="457" width="5" height="5"/>
<rect x="490" y="460" width="5" height="5"/>
<rect x="492" y="471" width="5" height="5"/>
<rect x="494" y="476" width="5" height="5"/>
<rect x="497" y="479" width="5" height="5"/>
<rect x="501" y="480" width="5" height="5"/>
<rect x="503" y="479" width="5" height="5"/>
<rect x="506" y="482" width="5" height="5"/>
<rect x="509" y="483" width="5" height="5"/>
<rect x="513" y="484" width="5" height="5"/>
<rect x="517" y="485" width="5" height="5"/>
<rect x="519" y="486" width="5" height="5"/>
<rect x="523" y="492" width="5" height="5"/>
<rect x="527" y="497" width="5" height="5"/>
<rect x="531" y="501" width="5" height="5"/>
<rect x="533" y="501" width="5" height="5"/>
<rect x="535" y="502" width="5" height="5"/>
<rect x="537" y="503" width="5" height="5"/>
<rect x="539" y="502" width="5" height="5"/>
<rect x="541" y="502" width="5" height="5"/>
<rect x="543" y="501" width="5" height="5"/>
<rect x="545" y="501" width="5" height="5"/>
<rect x="547" y="501" width="5" height="5"/>
<rect x="549" y="500" width="5" height="5"/>
<rect x="551" y="501" width="5" height="5"/>
<rect x="553" y="501" width="5" height="5"/>
<rect x="555" y="501" width="5" height="5"/>
<rect x="558" y="502" width="5" height="5"/>
<rect x="560" y="502" width="5" height="5"/>
<rect x="563" y="503" width="5" height="5"/>
<rect x="565" y="503" width="5" height="5"/>
<rect x="567" y="503" width="5" height="5"/>
<rect x="569" y="504" width="5" height="5"/>
<rect x="571" y="504" width="5" height="5"/>
<rect x="573" y="504" width="5" height="5"/>
<rect x="575" y="504" width="5" height="5"/>
<rect x="577" y="505" width="5" height="5"/>
<rect x="579" y="505" width="5" height="5"/>
<rect x="581" y="505" width="5" height="5"/>
<rect x="583" y="505" width="5" height="5"/>
<rect x="585" y="505" width="5" height="5"/>
<rect x="587" y="505" width="5" height="5"/>
<rect x="589" y="505" width="5" height="5"/>
<rect x="591" y="505" width="5" height="5"/>
<rect x="593" y="505" width="5" height="5"/>
<rect x="595" y="505" width="5" height="5"/>
<rect x="597" y="505" width="5" height="5"/>
<rect x="600" y="505" width="5" height="5"/>
<rect x="602" y="505" width="5" height="5"/>
<rect x="605" y="505" width="5" height="5"/>
<rect x="609" y="503" width="5" height="5"/>
<rect x="611" y="500" width="5" height="5"/>
<rect x="613" y="498" width="5" height="5"/>
<rect x="615" y="495" width="5" height="5"/>
<rect x="618" y="489" width="5" height="5"/>
<rect x="621" y="482" width="5" height="5"/>
<rect x="623" y="473" width="5" height="5"/>
<rect x="626" y="467" width="5" height="5"/>
<rect x="629" y="464" width="5" height="5"/>
<rect x="632" y="455" width="5" height="5"/>
<rect x="637" y="449" width="5" height="5"/>
<rect x="639" y="447" width="5" height="5"/>
<rect x="641" y="438" width="5" height="5"/>
<rect x="645" y="438" width="5" height="5"/>
<rect x="650" y="439" width="5" height="5"/>
<rect x="654" y="441" width="5" height="5"/>
<rect x="658" y="437" width="5" height="5"/>
<rect x="661" y="423" width="5" height="5"/>
<rect x="664" y="423" width="5" height="5"/>
<rect x="666" y="413" width="5" height="5"/>
<rect x="669" y="394" width="5" height="5"/>
<rect x="670" y="385" width="5" height="5"/>
<rect x="672" y="378" width="5" height="5"/>
<rect x="675" y="367" width="5" height="5"/>
<rect x="677" y="357" width="5" height="5"/>
<rect x="679" y="352" width="5" height="5"/>
<rect x="682" y="351" width="5" height="5"/>
<rect x="685" y="353" width="5" height="5"/>
<rect x="687" y="357" width="5" height="5"/>
<rect x="689" y="375" width="5" height="5"/>
<rect x="691" y="361" width="5" height="5"/>
<rect x="693" y="375" width="5" height="5"/>
<rect x="696" y="377" width="5" height="5"/>
<rect x="698" y="378" width="5" height="5"/>
<rect x="701" y="385" width="5" height="5"/>
<rect x="702" y="401" width="5" height="5"/>
<rect x="704" y="409" width="5" height="5"/>
<rect x="707" y="404" width="5" height="5"/>
<rect x="709" y="428" width="5" height="5"/>
<rect x="711" y="425" width="5" height="5"/>
<rect x="714" y="422" width="5" height="5"/>
<rect x="716" y="424" width="5" height="5"/>
<rect x="717" y="434" width="5" height="5"/>
<rect x="719" y="449" width="5" height="5"/>
<rect x="722" y="450" width="5" height="5"/>
<rect x="724" y="453" width="5" height="5"/>
<rect x="726" y="450" width="5" height="5"/>
<rect x="728" y="444" width="5" height="5"/>
<rect x="731" y="445" width="5" height="5"/>
<rect x="732" y="439" width="5" height="5"/>
<rect x="734" y="450" width="5" height="5"/>
<rect x="736" y="456" width="5" height="5"/>
<rect x="738" y="444" width="5" height="5"/>
<rect x="741" y="443" width="5" height="5"/>
<rect x="743" y="437" width="5" height="5"/>
<rect x="746" y="436" width="5" height="5"/>
<rect x="749" y="429" width="5" height="5"/>
<rect x="752" y="432" width="5" height="5"/>
<rect x="754" y="436" width="5" height="5"/>
<rect x="756" y="444" width="5" height="5"/>
<rect x="759" y="444" width="5" height="5"/>
<rect x="760" y="447" width="5" height="5"/>
<rect x="763" y="452" width="5" height="5"/>
<rect x="764" y="461" width="5" height="5"/>
<rect x="766" y="462" width="5" height="5"/>
<rect x="769" y="465" width="5" height="5"/>
<rect x="771" y="469" width="5" height="5"/>
<rect x="774" y="471" width="5" height="5"/>
<rect x="777" y="477" width="5" height="5"/>
<rect x="780" y="475" width="5" height="5"/>
<rect x="783" y="476" width="5" height="5"/>
<rect x="787" y="478" width="5" height="5"/>
<rect x="789" y="479" width="5" height="5"/>
<rect x="792" y="485" width="5" height="5"/>
<rect x="796" y="486" width="5" height="5"/>
<rect x="800" y="487" width="5" height="5"/>
<rect x="804" y="487" width="5" height="5"/>
<rect x="809" y="487" width="5" height="5"/>
<rect x="813" y="484" width="5" height="5"/>
<rect x="818" y="477" width="5" height="5"/>
<rect x="823" y="476" width="5" height="5"/>
<rect x="827" y="470" width="5" height="5"/>
<rect x="830" y="469" width="5" height="5"/>
<rect x="834" y="463" width="5" height="5"/>
<rect x="837" y="461" width="5" height="5"/>
<rect x="839" y="459" width="5" height="5"/>
</g>
<path d="M56.50 479.67L58.50 472.84M58.50 472.84L60.80 466.00M60.80 466.00L63.60 456.06M68.80 449.22L71.30 442.39M73.90 444.87L75.40 434.31M75.40 434.31L78.60 423.75M78.60 423.75L81.90 398.89M81.90 398.89L84.10 392.06M84.10 392.06L85.80 378.38M85.80 378.38L88.20 365.96M88.20 365.96L90.10 359.12M94.20 355.39L97.00 333.02M97.00 333.02L98.90 311.27M98.90 311.27L101.30 271.50M101.30 271.50L103.30 300.09M103.30 300.09L105.40 268.40M105.40 268.40L107.50 217.44M107.50 217.44L109.50 234.22M109.50 234.22L112.00 208.74M112.00 208.74L113.70 185.13M113.70 185.13L116.70 191.96M118.80 191.96L119.80 178.29M121.30 177.67L122.30 205.64M122.30 205.64L124.50 174.57M124.50 174.57L127.00 123.61M129.20 126.10L130.70 139.15M130.70 139.15L133.30 96.89M135.80 100.00L137.40 84.46M137.40 84.46L139.90 95.03M139.90 95.03L142.00 124.85M142.00 124.85L144.00 132.93M144.00 132.93L146.10 154.68M146.10 154.68L147.60 196.31M147.60 196.31L150.10 190.72M150.10 190.72L152.30 235.46M152.30 235.46L154.30 278.34M154.30 278.34L156.90 301.33M156.90 301.33L159.00 294.50M159.00 294.50L161.00 306.92M161.00 306.92L163.10 295.74M163.10 295.74L168.00 300.09M168.00 300.09L169.20 326.19M172.10 326.81L174.20 359.12M177.90 367.82L179.90 380.25M179.90 380.25L181.60 395.16M181.60 395.16L184.60 405.10M184.60 405.10L186.30 423.75M186.30 423.75L188.80 429.34M193.10 433.07L195.70 440.52M201.70 442.39L204.20 433.07M207.70 436.17L210.20 428.72M212.00 433.69L214.20 423.13M214.20 423.13L216.20 410.70M224.80 400.13L227.40 408.21M239.30 409.45L241.90 417.53M246.20 423.75L249.60 413.18M249.60 413.18L252.20 402.00M252.20 402.00L254.80 396.41M258.40 399.51L260.60 370.31M260.60 370.31L262.90 364.71M272.00 360.36L273.80 367.82M276.10 364.71L279.50 369.69M279.50 369.69L282.30 382.11M282.30 382.11L284.80 367.82M284.80 367.82L287.00 378.38M289.30 380.87L291.20 393.92M291.20 393.92L293.00 411.32M294.90 405.73L297.40 418.15M297.40 418.15L299.80 426.23M303.00 433.07L306.20 444.87M307.70 447.98L310.60 439.28M319.00 446.74L320.90 431.82M320.90 431.82L323.20 426.23M323.20 426.23L325.10 414.43M325.10 414.43L326.60 402.62M332.20 398.89L334.10 390.19M336.50 390.19L337.90 373.41M340.30 377.14L342.20 358.50M345.40 359.12L348.60 346.07M348.60 346.07L351.00 352.91M351.00 352.91L352.90 324.32M352.90 324.32L355.70 316.87M359.50 316.24L361.40 334.89M361.40 334.89L363.60 341.72M367.00 342.34L369.80 334.89M369.80 334.89L371.70 311.27M371.70 311.27L373.60 342.96M373.60 342.96L375.50 351.66M375.50 351.66L378.30 342.34M381.10 342.34L383.00 354.77M383.00 354.77L384.90 347.31M384.90 347.31L386.80 327.43M386.80 327.43L389.20 313.76M389.20 313.76L391.50 323.70M391.50 323.70L392.40 339.86M392.40 339.86L395.60 347.31M395.60 347.31L398.10 353.53M398.10 353.53L400.00 340.48M403.70 340.48L405.60 355.39M408.40 356.64L410.70 364.71M410.70 364.71L412.60 346.07M412.60 346.07L415.00 337.37M433.80 324.94L435.70 332.40M442.90 334.27L444.80 357.88M457.40 363.47L460.20 369.06M462.10 371.55L464.00 385.84M464.00 385.84L465.90 404.48M465.90 404.48L467.80 416.91M472.90 418.15L475.30 428.10M477.20 426.23L479.90 431.82M479.90 431.82L482.90 444.25M482.90 444.25L484.80 450.47M492.30 462.27L494.50 473.46M521.80 488.37L526.00 494.59M526.00 494.59L530.00 499.56M617.60 497.69L620.90 491.48M620.90 491.48L623.80 484.64M623.80 484.64L626.00 475.32M631.80 466.62L634.70 457.92M634.70 457.92L639.00 451.71M641.20 449.22L643.40 440.52M660.40 439.28L663.20 425.61M666.60 425.61L668.80 415.05M668.80 415.05L671.10 396.41M671.10 396.41L672.60 387.08M672.60 387.08L674.90 380.87M674.90 380.87L677.30 369.06M677.30 369.06L679.20 359.74M679.20 359.74L681.60 354.15M689.90 359.74L691.80 377.76M691.80 377.76L693.70 363.47M693.70 363.47L695.20 377.76M700.80 380.87L703.10 387.08M703.10 387.08L704.60 403.86M704.60 403.86L706.90 411.32M709.30 406.35L711.20 430.58M718.90 426.23L719.90 436.17M719.90 436.17L721.50 451.71M728.90 452.95L730.40 446.12M734.70 441.77L736.60 452.33M736.60 452.33L738.90 458.55M738.90 458.55L740.40 446.12M743.50 445.50L745.80 439.28M748.10 438.04L751.70 431.20M756.60 438.66L758.10 446.12M762.80 449.22L765.10 454.82M765.10 454.82L766.60 463.52M776.60 473.46L779.70 479.67M792.00 481.54L794.40 487.13M816.00 486.51L820.80 479.05M825.60 478.43L829.20 472.22M832.80 471.59L836.40 465.38" fill="none" stroke="#52703a" stroke-width="1.8" stroke-opacity="0.4" stroke-linecap="butt"/>
</svg></body></html>
